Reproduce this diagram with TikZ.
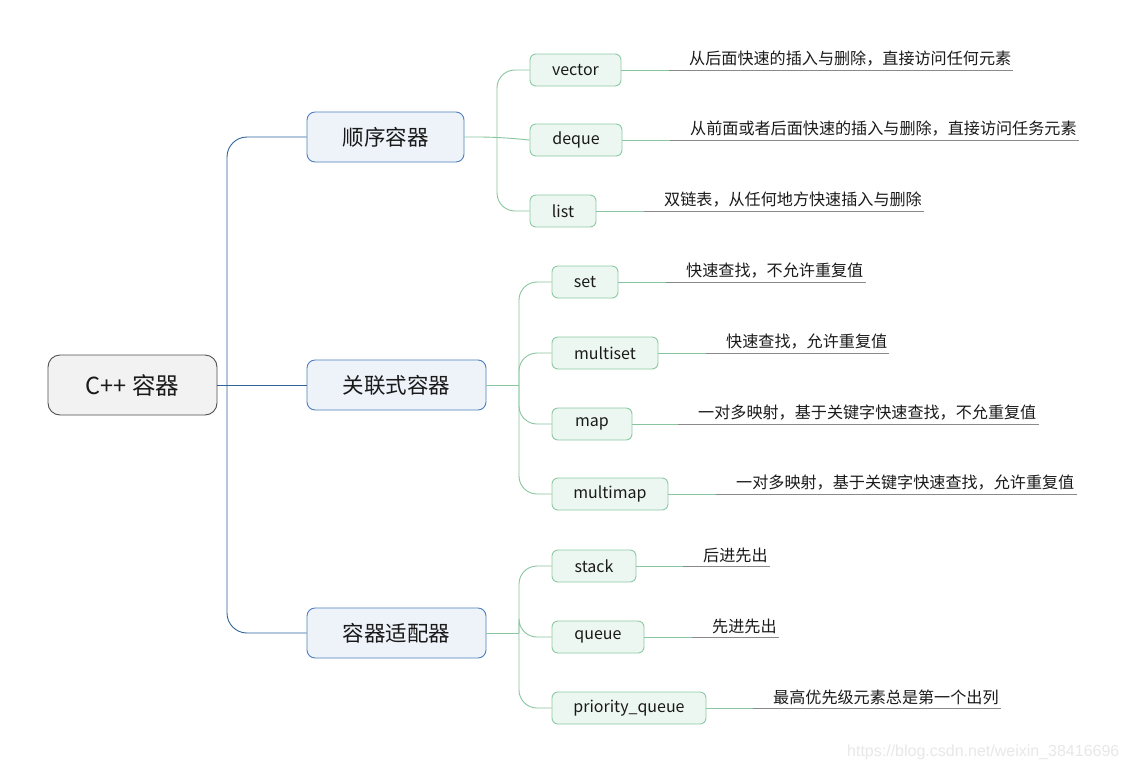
\documentclass[tikz,border=0pt]{standalone}
\usepackage{fontspec}
\usetikzlibrary{calc}
\setmainfont{Noto Sans CJK SC}
\newfontfamily\wmfont{Liberation Sans}
\definecolor{rootfill}{HTML}{F2F2F2}
\definecolor{rootdraw}{HTML}{505050}
\definecolor{l1fill}{HTML}{EEF3FA}
\definecolor{l1draw}{HTML}{4F7FBA}
\definecolor{l1line}{HTML}{30639A}
\definecolor{leaffill}{HTML}{EDF7F1}
\definecolor{leafdraw}{HTML}{8CCAA4}
\definecolor{leafline}{HTML}{88C6A0}
\definecolor{ulgray}{HTML}{8A8A8A}
\definecolor{txt}{HTML}{1A1A1A}
\begin{document}
\begin{tikzpicture}[x=1pt,y=-1pt,
  rootbox/.style={draw=rootdraw,fill=rootfill,line width=0.9pt,rounded corners=12pt,minimum width=169pt,minimum height=60pt,inner sep=0pt,font=\fontsize{23.5}{27}\selectfont,text=txt},
  lonebox/.style={draw=l1draw,fill=l1fill,line width=0.9pt,rounded corners=8pt,minimum height=50pt,inner sep=0pt,font=\fontsize{21.5}{25}\selectfont,text=txt},
  leafbox/.style={draw=leafdraw,fill=leaffill,line width=0.9pt,rounded corners=6pt,minimum height=32pt,inner sep=0pt,font=\fontsize{16}{19}\selectfont,text=txt},
  desc/.style={anchor=west,inner sep=0pt,font=\fontsize{16.1}{19}\selectfont,text=txt},
  bline/.style={draw=l1line,line width=0.9pt,rounded corners=20pt},
  gline/.style={draw=leafline,line width=0.9pt,rounded corners=18pt},
  uline/.style={draw=ulgray,line width=0.8pt}]
\useasboundingbox (0,0) rectangle (1128,772);
\fill[white] (0,0) rectangle (1128,772);

% root
\node[rootbox] (root) at (132.5,385) {C++ 容器};
% level 1
\node[lonebox,minimum width=157pt] (seq) at (385.5,137) {顺序容器};
\node[lonebox,minimum width=179pt] (asc) at (396.5,385) {关联式容器};
\node[lonebox,minimum width=179pt] (ada) at (396.5,633) {容器适配器};

\coordinate (rb) at (227,385);
\draw[bline] (root.east) -- (asc.west);
\draw[bline] (rb) |- (seq.west);
\draw[bline] (rb) |- (ada.west);

% sequence leaves
\node[leafbox,minimum width=91pt] (vec) at (575.5,70) {vector};
\node[leafbox,minimum width=92pt] (deq) at (576,140) {deque};
\node[leafbox,minimum width=66pt] (lst) at (563,211) {list};
\coordinate (sb) at (497,137);
\draw[gline] (seq.east) -- (sb) -- (deq.west);
\draw[gline] (sb) |- (vec.west);
\draw[gline] (sb) |- (lst.west);

% association leaves
\node[leafbox,minimum width=66pt] (set) at (585,282) {set};
\node[leafbox,minimum width=106pt] (mset) at (605,353) {multiset};
\node[leafbox,minimum width=80pt] (map) at (592,424) {map};
\node[leafbox,minimum width=116pt] (mmap) at (610,494) {multimap};
\coordinate (ab) at (519,385);
\draw[gline] (asc.east) -- (ab);
\draw[gline] (ab) |- (set.west);
\draw[gline] (ab) |- (mset.west);
\draw[gline] (ab) |- (map.west);
\draw[gline] (ab) |- (mmap.west);

% adapter leaves
\node[leafbox,minimum width=84pt] (stk) at (594,566) {stack};
\node[leafbox,minimum width=92pt] (que) at (598,637) {queue};
\node[leafbox,minimum width=154pt] (pq) at (629,708) {priority\_queue};
\coordinate (db) at (519,633);
\draw[gline] (ada.east) -- (db);
\draw[gline] (db) |- (stk.west);
\draw[gline] (db) |- (que.west);
\draw[gline] (db) |- (pq.west);

% descriptions
\node[desc] (dvec) at (689,59) {从后面快速的插入与删除，直接访问任何元素};
\node[desc] (ddeq) at (690,129) {从前面或者后面快速的插入与删除，直接访问任务元素};
\node[desc] (dlst) at (664,200) {双链表，从任何地方快速插入与删除};
\node[desc] (dset) at (686,271) {快速查找，不允许重复值};
\node[desc] (dmset) at (726,342) {快速查找，允许重复值};
\node[desc] (dmap) at (698,413) {一对多映射，基于关键字快速查找，不允重复值};
\node[desc] (dmmap) at (736,483) {一对多映射，基于关键字快速查找，允许重复值};
\node[desc] (dstk) at (703,555) {后进先出};
\node[desc] (dque) at (712,626) {先进先出};
\node[desc] (dpq) at (773,697) {最高优先级元素总是第一个出列};

\foreach \a/\b in {vec/dvec,deq/ddeq,lst/dlst,set/dset,mset/dmset,map/dmap,mmap/dmmap,stk/dstk,que/dque,pq/dpq}{
  \draw[leafline,line width=0.9pt] (\a.east) -- ($(\a.east -| \b.west)+(-20,0)$);
  \draw[uline] ($(\a.east -| \b.west)+(-20,0)$) -- ($(\a.east -| \b.east)+(2,0)$);
}

% watermark
\node[anchor=west,inner sep=0pt,text=black!9,font=\wmfont\fontsize{16}{18}\selectfont] (wm) at (847,752) {https://blog.csdn.net/weixin\_38416696};
\end{tikzpicture}
\end{document}
